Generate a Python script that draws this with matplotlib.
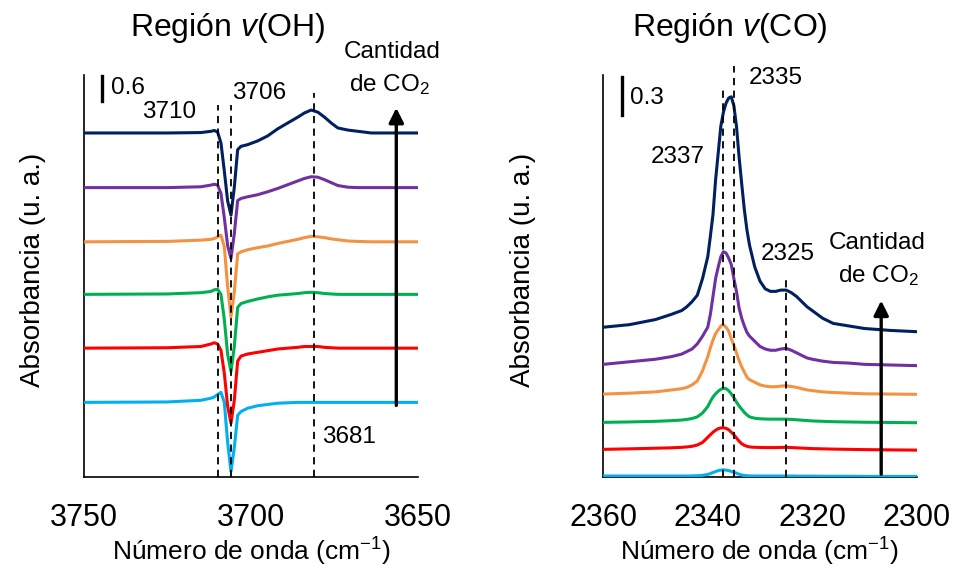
import matplotlib.pyplot as plt
import numpy as np

plt.rcParams['font.family'] = ['Liberation Sans', 'DejaVu Sans']
plt.rcParams['mathtext.fontset'] = 'custom'
plt.rcParams['mathtext.rm'] = 'Liberation Sans'
plt.rcParams['mathtext.it'] = 'Liberation Sans:italic'

# Region v(OH): absorbancia sobre la linea base de cada espectro
wn_oh = [3750, 3725, 3715, 3712, 3711, 3710, 3709, 3708, 3707, 3706, 3705, 3704, 3703, 3701, 3698,
         3695, 3692, 3689, 3686, 3684, 3682, 3680, 3678, 3676, 3674, 3671, 3668, 3664, 3650]
oh_cian = [0, 0.01, 0.05, 0.10, 0.13, 0.19, 0.24, 0, -0.96, -1.66, -1.08, -0.31, -0.22, -0.14, -0.08,
           -0.05, -0.02, -0.01, 0, 0, 0, 0, 0, 0, 0, 0, 0, 0, 0]
oh_rojo = [0, 0.01, 0.04, 0.10, 0.13, 0.10, -0.05, -0.60, -1.39, -1.80, -1.25, -0.31, -0.19, -0.14, -0.10,
           -0.06, -0.02, 0, 0.02, 0.04, 0.04, 0.04, 0.02, 0.01, 0, 0, 0, 0, 0]
oh_verde = [0, 0.01, 0.04, 0.07, 0.11, 0.12, 0, -0.60, -1.44, -1.85, -1.25, -0.31, -0.22, -0.17, -0.11,
            -0.06, -0.02, 0, 0.02, 0.04, 0.05, 0.04, 0.02, 0.01, 0, 0, 0, 0, 0]
oh_naranja = [0, 0.01, 0.04, 0.06, 0.08, 0.12, 0.16, -0.12, -1.08, -1.80, -1.20, -0.29, -0.24, -0.19, -0.14,
              -0.10, -0.04, 0.01, 0.06, 0.10, 0.13, 0.12, 0.10, 0.07, 0.05, 0.02, 0.01, 0, 0]
oh_morado = [0, 0, 0.02, 0.06, 0.08, 0.06, -0.14, -0.72, -1.39, -1.70, -1.10, -0.31, -0.26, -0.22, -0.17,
             -0.10, -0.02, 0.07, 0.16, 0.22, 0.26, 0.25, 0.19, 0.12, 0.05, 0.01, 0, 0, 0]
oh_azul = [0, 0, 0.01, 0.04, 0.06, 0.02, -0.24, -0.91, -1.63, -1.97, -1.30, -0.40, -0.32, -0.28, -0.19,
           -0.07, 0.10, 0.24, 0.38, 0.48, 0.55, 0.50, 0.38, 0.24, 0.12, 0.07, 0.04, 0, 0]
oh_base = [1.79, 3.09, 4.38, 5.64, 6.94, 8.25]

# Region v(CO): absorbancia ya desplazada
wn_co = [2360, 2355, 2350, 2347, 2345, 2344, 2343, 2342, 2341, 2340,
         2339.5, 2339, 2338.5, 2338, 2337.5, 2337, 2336.5, 2336, 2335.5, 2335, 2334.5, 2334, 2333.5, 2333, 2332.5, 2332,
         2331, 2330, 2329, 2328, 2327, 2326, 2325, 2324, 2323, 2322, 2321, 2320,
         2318, 2316, 2313, 2310, 2305, 2300]
co_cian = [0.008, 0.008, 0.008, 0.008, 0.008, 0.008, 0.009, 0.01, 0.013, 0.02,
           0.027, 0.035, 0.043, 0.05, 0.054, 0.056, 0.054, 0.05, 0.044, 0.037, 0.03, 0.022, 0.016, 0.012, 0.01, 0.009,
           0.008, 0.008, 0.008, 0.008, 0.008, 0.008, 0.008, 0.008, 0.007, 0.007, 0.007, 0.007,
           0.006, 0.006, 0.006, 0.005, 0.005, 0.005]
co_rojo = [0.216, 0.22, 0.225, 0.228, 0.232, 0.235, 0.24, 0.25, 0.27, 0.31,
           0.33, 0.35, 0.365, 0.378, 0.383, 0.385, 0.38, 0.37, 0.35, 0.33, 0.305, 0.28, 0.26, 0.248, 0.24, 0.235,
           0.232, 0.231, 0.23, 0.23, 0.23, 0.231, 0.232, 0.23, 0.228, 0.226, 0.224, 0.222,
           0.22, 0.218, 0.216, 0.214, 0.212, 0.21]
co_verde = [0.427, 0.43, 0.435, 0.44, 0.445, 0.45, 0.457, 0.47, 0.50, 0.55,
            0.59, 0.625, 0.65, 0.67, 0.685, 0.693, 0.69, 0.675, 0.65, 0.62, 0.585, 0.555, 0.53, 0.505, 0.485, 0.47,
            0.459, 0.455, 0.453, 0.452, 0.452, 0.452, 0.452, 0.45, 0.447, 0.444, 0.441, 0.438,
            0.435, 0.432, 0.43, 0.428, 0.426, 0.424]
co_naranja = [0.648, 0.655, 0.665, 0.68, 0.69, 0.70, 0.72, 0.75, 0.83, 0.94,
              1.01, 1.07, 1.12, 1.15, 1.18, 1.19, 1.17, 1.14, 1.08, 1.03, 0.97, 0.91, 0.86, 0.82, 0.78, 0.76,
              0.74, 0.72, 0.71, 0.705, 0.705, 0.71, 0.713, 0.707, 0.70, 0.69, 0.68, 0.675,
              0.665, 0.66, 0.655, 0.65, 0.648, 0.646]
co_morado = [0.88, 0.90, 0.92, 0.94, 0.96, 0.98, 1.00, 1.04, 1.10, 1.17,
             1.27, 1.41, 1.55, 1.64, 1.72, 1.76, 1.75, 1.71, 1.66, 1.55, 1.45, 1.32, 1.24, 1.18, 1.13, 1.10,
             1.06, 1.02, 1.00, 0.99, 0.99, 1.00, 1.005, 0.99, 0.97, 0.95, 0.93, 0.92,
             0.905, 0.895, 0.89, 0.88, 0.875, 0.87]
co_azul = [1.17, 1.19, 1.23, 1.27, 1.30, 1.33, 1.37, 1.42, 1.55, 1.72,
           1.88, 2.05, 2.32, 2.53, 2.74, 2.85, 2.92, 2.96, 2.97, 2.90, 2.74, 2.50, 2.29, 2.09, 1.93, 1.81,
           1.64, 1.53, 1.47, 1.45, 1.45, 1.46, 1.46, 1.44, 1.41, 1.37, 1.33, 1.30,
           1.24, 1.20, 1.18, 1.16, 1.145, 1.135]

colores = ['#00B0F0', '#FF0000', '#00B050', '#F39241', '#7030A0', '#002060']

# bandas marcadas con lineas discontinuas y altura hasta donde llegan
bandas_oh = [3710, 3706, 3681]
techo_oh = [8.92, 8.92, 9.22]
bandas_co = [2337, 2335, 2325]
techo_co = [3.02, 3.21, 1.565]

fig = plt.figure(figsize=(9.55, 5.67), dpi=100)
ax1 = fig.add_axes([0.088, 0.1587, 0.3497, 0.709])
ax2 = fig.add_axes([0.6317, 0.1587, 0.3282, 0.709])

espectros_oh = [oh_cian, oh_rojo, oh_verde, oh_naranja, oh_morado, oh_azul]
for datos, base, c in zip(espectros_oh, oh_base, colores):
    ax1.plot(wn_oh, np.array(datos) + base, color=c, lw=2.2, zorder=3, solid_joinstyle='round')

espectros_co = [co_cian, co_rojo, co_verde, co_naranja, co_morado, co_azul]
for datos, c in zip(espectros_co, colores):
    ax2.plot(wn_co, datos, color=c, lw=2.2, zorder=3, solid_joinstyle='round')

for x, top in zip(bandas_oh, techo_oh):
    ax1.plot([x, x], [0, top], color='k', lw=1.3, ls=(0, (4, 3)), zorder=4, clip_on=False)
for x, top in zip(bandas_co, techo_co):
    ax2.plot([x, x], [0, top], color='k', lw=1.3, ls=(0, (4, 3)), zorder=4, clip_on=False)

fs = 17.5

# barras de escala
ax1.plot([3744.7, 3744.7], [9.02, 9.62], color='k', lw=2.4, clip_on=False)
ax1.text(3741.9, 9.32, '0.6', fontsize=fs, va='center', ha='left')
ax2.plot([2356.5, 2356.5], [2.83, 3.127], color='k', lw=2.4, clip_on=False)
ax2.text(2354.8, 2.96, '0.3', fontsize=fs, va='center', ha='left')

# etiquetas de bandas
ax1.text(3724.6, 8.75, '3710', fontsize=fs, ha='center', va='center')
ax1.text(3697.6, 9.21, '3706', fontsize=fs, ha='center', va='center')
ax1.text(3670.7, 0.96, '3681', fontsize=fs, ha='center', va='center')
ax2.text(2327.0, 3.12, '2335', fontsize=fs, ha='center', va='center')
ax2.text(2345.7, 2.50, '2337', fontsize=fs, ha='center', va='center')
ax2.text(2324.7, 1.74, '2325', fontsize=fs, ha='center', va='center')

# flechas de cantidad de CO2
ax1.annotate('', xy=(3656.5, 8.92), xytext=(3656.5, 1.65),
             arrowprops=dict(arrowstyle='-|>', lw=2.4, color='k', mutation_scale=22))
ax1.text(3657.8, 10.19, 'Cantidad', fontsize=fs, ha='center', va='center')
ax1.text(3658.4, 9.42, 'de CO$_2$', fontsize=fs, ha='center', va='center')
ax2.annotate('', xy=(2306.8, 1.40), xytext=(2306.8, 0),
             arrowprops=dict(arrowstyle='-|>', lw=2.4, color='k', mutation_scale=22))
ax2.text(2307.5, 1.83, 'Cantidad', fontsize=fs, ha='center', va='center')
ax2.text(2307.3, 1.57, 'de CO$_2$', fontsize=fs, ha='center', va='center')

ax1.text(0.431, 1.117, r'Región $\mathit{v}$(OH)', transform=ax1.transAxes,
         fontsize=23, ha='center', va='center')
ax2.text(0.404, 1.117, r'Región $\mathit{v}$(CO)', transform=ax2.transAxes,
         fontsize=23, ha='center', va='center')

ax1.set_xlim(3750, 3650)
ax1.set_ylim(0, 9.64)
ax1.set_xticks([3750, 3700, 3650])
ax2.set_xlim(2360, 2300)
ax2.set_ylim(0, 3.14)
ax2.set_xticks([2360, 2340, 2320, 2300])

for ax, xl in [(ax1, -0.115), (ax2, -0.215)]:
    ax.set_yticks([])
    ax.spines['top'].set_visible(False)
    ax.spines['right'].set_visible(False)
    ax.spines['left'].set_linewidth(1.2)
    ax.spines['bottom'].set_linewidth(1.2)
    ax.tick_params(axis='x', length=0, pad=19, labelsize=22)
    ax.set_xlabel('Número de onda (cm$^{\\mathregular{-1}}$)', fontsize=19)
    ax.set_ylabel('Absorbancia (u. a.)', fontsize=20)
    ax.xaxis.set_label_coords(0.5, -0.145)
    ax.yaxis.set_label_coords(xl, 0.515)

plt.savefig('out.png', dpi=100)
